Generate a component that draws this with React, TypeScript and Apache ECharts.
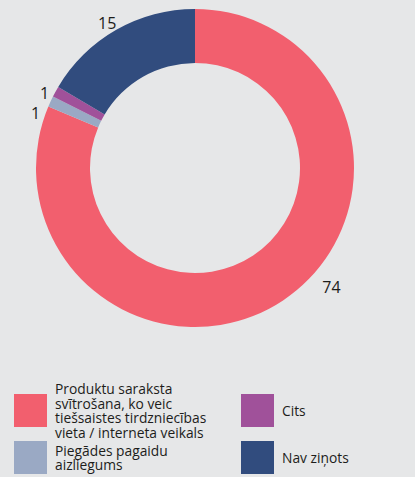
import React, { useEffect, useRef } from "react";
import * as echarts from "echarts";

const categories = [
  "Produktu saraksta svītrošana, ko veic tiešsaistes tirdzniecības vieta / interneta veikals",
  "Piegādes pagaidu aizliegums",
  "Cits",
  "Nav ziņots",
];
const legendLabels = [
  "Produktu saraksta\nsvītrošana, ko veic\ntiešsaistes tirdzniecības\nvieta / interneta veikals",
  "Piegādes pagaidu\naizliegums",
  "Cits",
  "Nav ziņots",
];
const values = [74, 1, 1, 15];
const colors = ["#f25f6e", "#9aa9c4", "#a0519a", "#314c7e"];

const FONT = "'Open Sans', sans-serif";
// small nudges of the value labels away from the default outside spot
const labelNudge = [
  [31, -18],
  [0, 14],
  [4, 4],
  [8, -2],
];

export default function App() {
  const ref = useRef<HTMLDivElement>(null);
  useEffect(() => {
    if (!ref.current) return;
    const chart = echarts.init(ref.current, undefined, { renderer: "svg" });
    const legendText = (i: number) => ({
      fontSize: 13.8,
      lineHeight: 14.5,
      color: "#1d1d1b",
      fontFamily: FONT,
      padding: i === 1 ? [13, 0, 0, 3] : [0, 0, 0, 3],
    });
    const mkLegend = (i: number, left: number, top: number) => ({
      show: true,
      left,
      top,
      padding: 0,
      orient: "vertical",
      icon: "rect",
      itemWidth: 33,
      itemHeight: 33,
      selectedMode: false,
      data: [categories[i]],
      formatter: () => legendLabels[i],
      textStyle: legendText(i),
    });
    chart.setOption({
      animation: false,
      backgroundColor: "#e6e7e8",
      color: colors,
      legend: [
        mkLegend(0, 14, 381.5),
        mkLegend(2, 241, 394),
        mkLegend(1, 14, 436.5),
        mkLegend(3, 241, 441),
      ],
      series: [
        {
          type: "pie",
          center: [195, 168],
          radius: [105, 159],
          startAngle: 90,
          clockwise: true,
          avoidLabelOverlap: false,
          silent: true,
          label: {
            show: true,
            position: "outside",
            formatter: "{c}",
            fontSize: 16,
            color: "#1d1d1b",
            fontFamily: FONT,
          },
          labelLine: { show: false, length: 6, length2: 0 },
          labelLayout: (p: any) => ({
            hideOverlap: false,
            moveOverlap: null,
            dx: labelNudge[p.dataIndex][0],
            dy: labelNudge[p.dataIndex][1],
          }),
          data: categories.map((name, i) => ({ name, value: values[i] })),
        },
      ],
    });
    return () => chart.dispose();
  }, []);
  return (
    <div
      ref={ref}
      style={{ position: "fixed", left: 0, top: 0, width: 415, height: 477 }}
    />
  );
}
